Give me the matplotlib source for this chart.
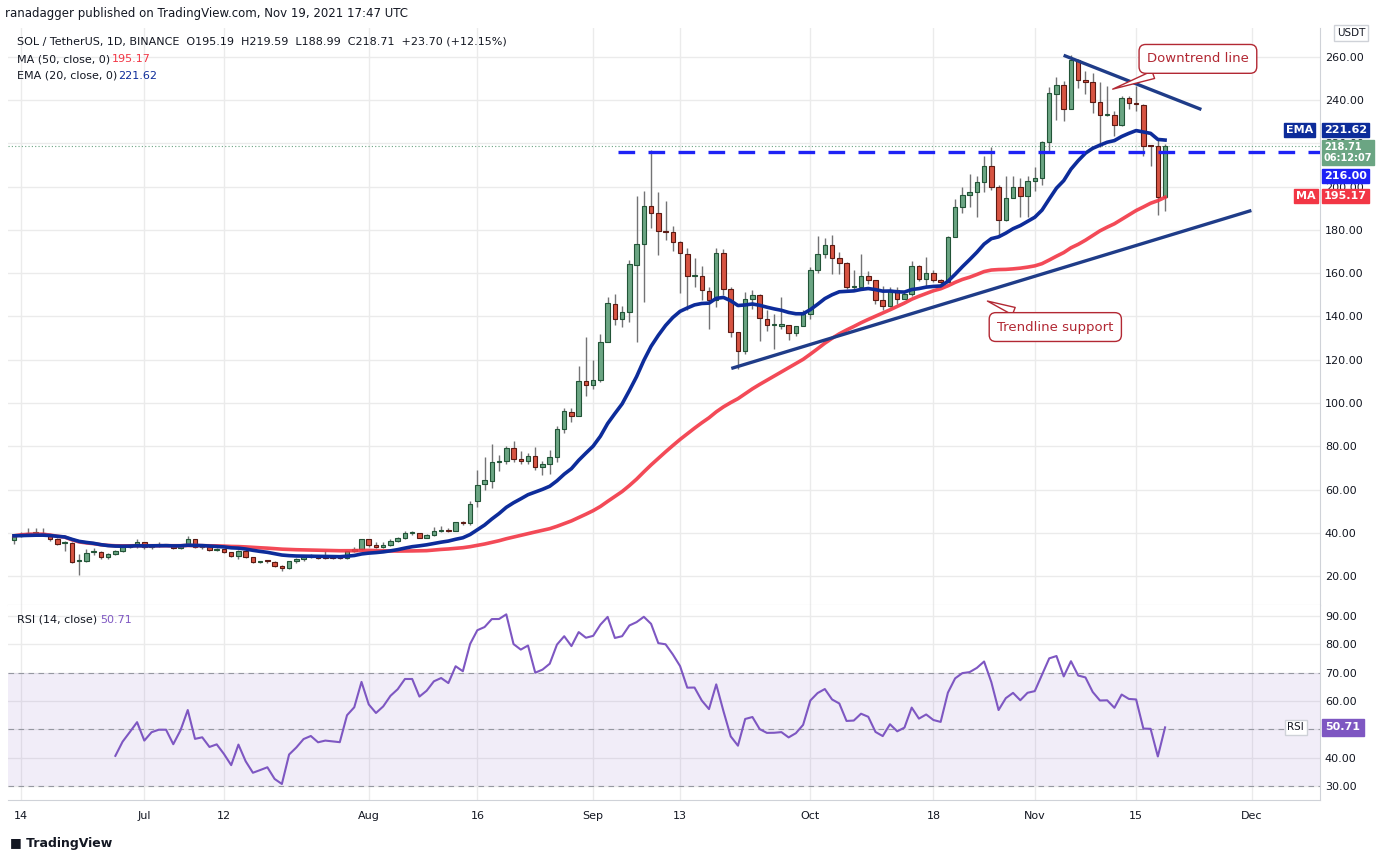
import numpy as np
import matplotlib
matplotlib.use("Agg")
import matplotlib.pyplot as plt
import matplotlib.transforms as mtransforms
import pandas as pd

# daily SOL/USDT candles, Jun 13 .. Nov 19 2021 (index 0 = Jun 13)
opens = [36.6, 38.6, 39.6, 39.7, 39.7, 39.0, 37.0, 35.2, 35.4, 26.8, 27.0, 30.9, 31.2, 28.6, 30.0, 31.7,
         33.5, 34.0, 35.5, 33.2, 34.4, 34.6, 34.2, 32.8, 34.3, 36.9, 33.4, 33.4, 32.2, 32.3, 30.9, 29.1,
         31.4, 28.6, 26.5, 27.0, 26.6, 24.6, 23.5, 26.8, 27.7, 29.0, 29.2, 28.6, 28.6, 28.9, 28.3, 31.4,
         32.5, 36.9, 34.3, 33.2, 34.3, 36.2, 37.5, 39.7, 39.7, 37.8, 38.9, 40.8, 41.5, 41.0, 44.8, 44.3,
         54.5, 62.5, 64.0, 72.8, 73.0, 79.0, 74.0, 73.0, 75.7, 70.5, 72.0, 75.0, 88.0, 96.0, 94.0, 110.0,
         108.5, 110.8, 128.0, 146.0, 139.0, 142.0, 164.0, 173.5, 191.0, 188.0, 179.5, 179.0, 174.6, 169.0,
         158.8, 158.8, 152.0, 147.7, 169.4, 152.8, 133.0, 124.0, 148.0, 150.0, 139.0, 136.0, 135.7, 136.0,
         132.5, 135.4, 141.0, 161.5, 169.0, 173.2, 167.0, 164.6, 153.5, 153.5, 158.8, 157.0, 147.7, 145.0,
         152.3, 148.0, 150.2, 163.4, 157.2, 160.0, 157.0, 156.0, 176.6, 190.5, 196.3, 197.4, 202.0, 209.4,
         200.0, 184.6, 195.0, 200.0, 195.8, 202.5, 204.0, 220.5, 243.0, 247.0, 235.8, 258.5, 249.5, 248.3,
         239.0, 233.2, 233.0, 228.6, 241.0, 238.5, 238.0, 219.0, 219.0, 195.19]
closes = [38.6, 39.5, 39.8, 39.7, 39.0, 37.0, 35.0, 35.4, 26.6, 27.0, 30.8, 31.2, 28.6, 30.0, 31.7, 33.2,
          34.3, 35.5, 33.2, 34.2, 34.5, 34.5, 32.8, 34.3, 36.9, 33.2, 33.4, 32.0, 32.3, 30.9, 29.1, 31.4,
          28.6, 26.3, 26.6, 26.9, 24.6, 23.5, 26.8, 27.7, 28.8, 29.2, 28.3, 28.5, 28.4, 28.3, 31.4, 32.5,
          36.9, 34.3, 33.2, 34.3, 36.2, 37.5, 39.7, 39.7, 37.8, 38.9, 40.8, 41.5, 41.0, 44.8, 44.3, 53.5,
          62.0, 64.6, 72.8, 72.9, 79.0, 74.0, 73.0, 75.7, 70.5, 72.0, 75.0, 88.0, 96.3, 94.0, 110.0, 108.5,
          110.8, 128.0, 146.3, 139.0, 142.0, 164.3, 173.5, 191.0, 188.0, 179.5, 179.0, 174.6, 169.4, 158.8,
          158.9, 152.3, 147.7, 169.4, 152.8, 132.8, 124.0, 148.0, 150.0, 139.4, 136.0, 136.1, 136.6, 132.5,
          135.4, 141.2, 161.5, 169.0, 173.2, 167.0, 164.6, 153.5, 153.8, 158.8, 157.0, 147.7, 145.0, 152.3,
          148.0, 150.2, 163.4, 157.2, 160.0, 157.0, 156.0, 176.6, 190.5, 196.3, 197.4, 202.0, 209.4, 200.0,
          184.6, 195.0, 200.0, 195.8, 202.5, 204.0, 220.5, 243.2, 247.0, 235.8, 258.5, 249.5, 248.3, 239.0,
          233.2, 233.4, 228.6, 241.2, 238.5, 238.2, 219.0, 218.8, 195.2, 218.71]
highs = [39.5, 40.5, 42.0, 42.0, 42.0, 39.5, 37.5, 36.0, 35.6, 30.0, 32.5, 33.0, 31.5, 30.5, 32.0, 34.0,
         35.0, 37.0, 35.8, 34.8, 35.5, 35.0, 34.8, 35.0, 38.5, 37.2, 34.5, 33.6, 33.0, 32.5, 31.2, 32.0,
         31.6, 28.8, 27.0, 27.5, 26.8, 25.0, 27.0, 28.5, 29.5, 30.0, 29.5, 31.5, 29.5, 29.5, 31.8, 33.5,
         37.2, 37.0, 35.5, 35.5, 37.0, 38.2, 41.0, 40.8, 40.0, 39.5, 42.5, 43.0, 42.0, 45.2, 45.5, 54.8,
         69.0, 75.0, 81.0, 76.0, 80.0, 82.3, 77.7, 76.9, 79.7, 73.0, 78.5, 89.4, 97.8, 97.8, 117.0, 130.3,
         119.7, 132.0, 149.2, 150.5, 145.0, 166.3, 195.8, 198.0, 217.0, 197.7, 193.5, 182.0, 175.0, 171.7,
         167.0, 163.5, 153.8, 171.7, 171.2, 153.8, 133.0, 151.2, 152.3, 150.5, 142.8, 141.0, 149.2, 136.2,
         135.8, 143.0, 163.0, 177.0, 176.5, 177.8, 170.0, 165.0, 161.5, 169.0, 161.0, 157.0, 154.3, 153.5,
         153.5, 151.2, 165.8, 164.0, 167.4, 161.5, 157.4, 177.4, 194.3, 199.7, 205.8, 205.0, 214.3, 218.5,
         200.9, 205.0, 205.0, 204.0, 205.0, 209.0, 221.2, 246.2, 250.8, 249.0, 261.0, 259.0, 253.5, 252.8,
         248.2, 246.6, 235.0, 242.0, 242.0, 246.6, 238.2, 219.4, 221.5, 219.59]
lows = [35.0, 38.0, 39.0, 39.0, 38.5, 36.0, 34.5, 31.5, 26.0, 20.5, 26.5, 29.5, 28.0, 27.8, 29.5, 31.0,
        33.0, 33.0, 32.5, 32.5, 33.5, 34.0, 32.5, 32.5, 34.0, 33.0, 32.5, 31.5, 31.5, 30.5, 28.8, 28.0,
        28.3, 26.0, 26.0, 26.2, 24.2, 22.5, 23.2, 26.0, 27.0, 28.5, 27.8, 28.0, 27.8, 27.8, 27.8, 31.0,
        32.2, 33.5, 33.0, 32.8, 34.0, 35.5, 37.0, 39.0, 37.5, 37.5, 38.5, 40.2, 40.5, 40.8, 43.5, 43.8,
        52.0, 60.0, 60.5, 68.6, 71.7, 72.8, 71.7, 72.0, 69.2, 66.6, 67.0, 72.8, 86.0, 91.0, 94.0, 103.2,
        106.5, 109.7, 128.0, 136.0, 135.0, 137.4, 128.0, 146.6, 181.0, 168.3, 175.5, 170.5, 150.8, 143.0,
        153.5, 147.7, 134.3, 144.3, 150.0, 130.5, 115.8, 122.8, 143.5, 128.5, 133.5, 125.0, 134.3, 129.0,
        131.2, 138.0, 139.0, 160.0, 167.0, 159.7, 159.7, 152.8, 152.0, 152.8, 155.0, 145.8, 142.8, 144.3,
        145.8, 148.0, 149.7, 156.6, 153.5, 155.8, 155.1, 155.8, 176.6, 188.0, 190.5, 185.8, 197.4, 198.5,
        176.6, 184.3, 195.0, 185.8, 186.0, 198.0, 201.0, 215.8, 230.8, 230.5, 236.0, 245.8, 242.8, 234.3,
        218.2, 232.8, 223.5, 228.0, 235.8, 235.0, 214.3, 209.7, 187.1, 188.99]

# date ticks (candle index) and labels
tick_idx = [1, 18, 29, 49, 64, 80, 92, 110, 127, 141, 155, 171]
tick_lbl = ["14", "Jul", "12", "Aug", "16", "Sep", "13", "Oct", "18", "Nov", "15", "Dec"]
price_ticks = [20, 40, 60, 80, 100, 120, 140, 160, 180, 200, 220, 240, 260]
rsi_ticks = [30, 40, 50, 60, 70, 80, 90]

# drawn lines (index, price)
resist_level = 216.0
resist_start = 83.4
downtrend = ([145.2, 163.8], [260.5, 236.0])
trend_support = ([99.3, 170.7], [116.2, 188.8])

W, H = 1391, 860
x = np.arange(len(closes))
o, c, h, l = map(np.array, (opens, closes, highs, lows))
s = pd.Series(c)
ema20 = s.ewm(span=20, adjust=False).mean()
ma50 = s.rolling(50, min_periods=1).mean()
delta = s.diff()
up = delta.clip(lower=0).ewm(alpha=1 / 14, min_periods=14).mean()
dn = (-delta.clip(upper=0)).ewm(alpha=1 / 14, min_periods=14).mean()
rsi = 100 - 100 / (1 + up / dn)

GRID = "#ebebeb"
TXT = "#131722"
fig = plt.figure(figsize=(W / 100, H / 100), dpi=100)
ax = fig.add_axes([8 / W, (H - 605) / H, (1320 - 8) / W, (605 - 28) / H])
ar = fig.add_axes([8 / W, (H - 800) / H, (1320 - 8) / W, 195 / H], sharex=ax)

xl = (-0.83, 180.4)
ax.set_xlim(*xl)
ax.set_ylim(6.6, 273.4)
ar.set_ylim(25.1, 93.9)

for a in (ax, ar):
    a.set_xticks(tick_idx)
    a.grid(True, color=GRID, lw=1)
    a.set_axisbelow(True)
    a.yaxis.tick_right()
    a.tick_params(length=0, labelsize=8, colors=TXT)
    for sp in a.spines.values():
        sp.set_color("#cfd2d8")
    a.spines["left"].set_visible(False)
    a.spines["top"].set_visible(False)
ax.tick_params(labelbottom=False)
ar.set_xticklabels(tick_lbl)
ax.set_yticks(price_ticks)
ax.set_yticklabels([f"{v:.2f}" for v in price_ticks])
ar.set_yticks(rsi_ticks)
ar.set_yticklabels([f"{v:.2f}" for v in rsi_ticks])
ar.tick_params(axis="x", pad=8)

# candles
upc = c >= o
bot = np.minimum(o, c)
ht = np.maximum(np.abs(c - o), 0.5)
ax.vlines(x, l, h, color="#737375", lw=1, zorder=2)
ax.bar(x[upc], ht[upc], bottom=bot[upc], width=0.62, color="#6BA583", edgecolor="#225437", lw=0.8, zorder=3)
ax.bar(x[~upc], ht[~upc], bottom=bot[~upc], width=0.62, color="#D75442", edgecolor="#5B1A13", lw=0.8, zorder=3)

ax.plot(x, ma50, color="#F23645", lw=2.6, alpha=0.9, zorder=4)
ax.plot(x, ema20, color="#0D2C9A", lw=2.6, zorder=4)

ax.axhline(c[-1], color="#6BA583", lw=0.8, ls=(0, (1, 2)), zorder=1)
ax.plot([resist_start, xl[1]], [resist_level] * 2, color="#1E22F5", lw=2.4, ls=(0, (5, 4)), zorder=5)
ax.plot(*downtrend, color="#1F3C88", lw=2.4, zorder=5)
ax.plot(*trend_support, color="#1F3C88", lw=2.4, zorder=5)

bubble = dict(boxstyle="round,pad=0.6,rounding_size=0.5", fc="white", ec="#B22833", lw=1)
wedge = dict(arrowstyle="wedge,tail_width=0.6", fc="white", ec="#B22833")
ax.annotate("Downtrend line", xy=(151.4, 244.7), xytext=(156.5, 257.5), fontsize=9.5, color="#B22833",
            bbox=bubble, arrowprops=wedge, zorder=6)
ax.annotate("Trendline support", xy=(134.1, 147.6), xytext=(135.8, 133.5), fontsize=9.5, color="#B22833",
            bbox=bubble, arrowprops=wedge, zorder=6)

# right-side price tags
tr = mtransforms.blended_transform_factory(ax.transAxes, ax.transData)
def tag(y, txt, bg, fg="white", xx=1.003, fs=8, pad=0.3):
    ax.text(xx, y, txt, transform=tr, fontsize=fs, color=fg, va="center", ha="left", fontweight="bold",
            bbox=dict(boxstyle=f"square,pad={pad}", fc=bg, ec=bg), clip_on=False, zorder=7)
tag(226.3, "221.62", "#0D2C9A", pad=0.2)
tag(226.3, "EMA", "#0D2C9A", xx=0.974, pad=0.2)
tag(205.0, "216.00", "#1E22F5", pad=0.2)
tag(195.6, "195.17", "#F23645", pad=0.2)
tag(195.6, "MA", "#F23645", xx=0.982, pad=0.2)
tag(215.8, "218.71\n06:12:07", "#6BA583", fs=7, pad=0.15)
ax.text(1.013, 1.0, "USDT", transform=ax.transAxes, fontsize=7.5, color=TXT, va="top",
        bbox=dict(boxstyle="square,pad=0.25", fc="white", ec="#cfd2d8"))

# RSI panel
ar.fill_between(xl, 30, 70, color="#7E57C2", alpha=0.1, lw=0)
for lv in (30, 50, 70):
    ar.axhline(lv, color="#9598a1", lw=0.8, ls=(0, (5, 4)))
ar.plot(x, rsi, color="#7E57C2", lw=1.5)
trr = mtransforms.blended_transform_factory(ar.transAxes, ar.transData)
ar.text(1.004, 50.71, "50.71", transform=trr, fontsize=8, color="white", va="center", fontweight="bold",
        bbox=dict(boxstyle="square,pad=0.3", fc="#7E57C2", ec="#7E57C2"), clip_on=False)
ar.text(0.975, 50.71, "RSI", transform=trr, fontsize=7.5, color=TXT, va="center",
        bbox=dict(boxstyle="square,pad=0.25", fc="white", ec="#cfd2d8"), clip_on=False)

# header texts
fig.text(5 / W, 1 - 14 / H, "ranadagger published on TradingView.com, Nov 19, 2021 17:47 UTC",
         fontsize=8.5, color=TXT, va="center")
fig.text(17 / W, 1 - 42 / H, "SOL / TetherUS, 1D, BINANCE  O195.19  H219.59  L188.99  C218.71  +23.70 (+12.15%)",
         fontsize=8, color=TXT, va="center")
fig.text(17 / W, 1 - 59 / H, "MA (50, close, 0)", fontsize=8, color=TXT, va="center")
fig.text(112 / W, 1 - 59 / H, "195.17", fontsize=8, color="#F23645", va="center")
fig.text(17 / W, 1 - 76 / H, "EMA (20, close, 0)", fontsize=8, color=TXT, va="center")
fig.text(118 / W, 1 - 76 / H, "221.62", fontsize=8, color="#0D2C9A", va="center")
fig.text(17 / W, 1 - 620 / H, "RSI (14, close)", fontsize=8, color=TXT, va="center")
fig.text(100 / W, 1 - 620 / H, "50.71", fontsize=8, color="#7E57C2", va="center")
fig.text(10 / W, 1 - 843 / H, "\u25A0 TradingView", fontsize=9, color=TXT, va="center", fontweight="bold")

fig.savefig("out.png", dpi=100)
